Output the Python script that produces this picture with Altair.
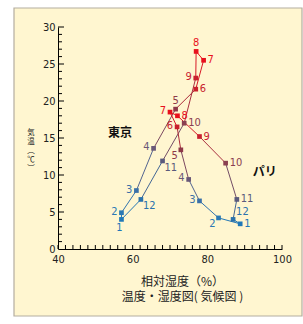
import altair as alt
import pandas as pd

# ---------------- data ----------------
months = [1, 2, 3, 4, 5, 6, 7, 8, 9, 10, 11, 12]
tokyo_humidity = [57.0, 57.0, 61.0, 65.6, 71.5, 76.9, 79.0, 77.0, 76.9, 73.8, 68.0, 62.2]
tokyo_temp = [4.0, 4.9, 7.9, 13.6, 18.9, 21.6, 25.5, 26.7, 23.1, 17.0, 11.9, 6.7]
paris_humidity = [88.8, 83.0, 77.9, 75.0, 72.9, 71.9, 70.0, 72.0, 77.9, 84.9, 87.9, 86.9]
paris_temp = [3.4, 4.2, 6.5, 9.4, 13.4, 16.5, 18.5, 18.0, 15.2, 11.6, 6.7, 4.0]

city_names = ["東京", "パリ"]
city_label_humidity = [56.6, 95.4]
city_label_temp = [15.7, 10.4]

x_title_lines = ["相対湿度（%）", "温度・湿度図( 気候図 )"]
y_title_chars = ["気", "温", "︵", "℃", "︶"]
x_tick_labels = [40, 60, 80, 100]
y_tick_labels = [0, 5, 10, 15, 20, 25, 30]
x_minor_ticks = list(range(40, 101, 2))
y_minor_ticks = [v for v in range(1, 31) if v % 5 != 0]
y_major_ticks = [5, 10, 15, 20, 25, 30]

# ---------------- styles ----------------
month_colors = ["#1f78b8", "#2a78b4", "#3a70a8", "#6a5878", "#8e3848", "#c8202c",
                "#e8101c", "#e8101c", "#c82030", "#8a4050", "#5a5a7c", "#2a72ac"]
tokyo_label_side = ["B", "L", "L", "L", "T", "R", "R", "T", "L", "R", "BR", "BR"]
paris_label_side = ["R", "BL", "L", "L", "BL", "L", "L", "R", "R", "R", "R", "TR"]
side_style = {
    "L": dict(align="right", dx=-4, dy=-1),
    "R": dict(align="left", dx=4, dy=0),
    "T": dict(align="center", dx=0, dy=-8),
    "B": dict(align="center", dx=-2, dy=9),
    "BL": dict(align="right", dx=-3, dy=6),
    "BR": dict(align="left", dx=2, dy=7),
    "TR": dict(align="left", dx=3, dy=-7),
}
NUM_FONT = "Liberation Sans Narrow, DejaVu Sans Condensed, Arial Narrow, sans-serif"
CJK_FONT = "Noto Sans CJK JP"
CREAM = "#FFF6D0"
BORDER = "#B4ADA0"


def mix(c1, c2):
    a = [int(c1[i:i + 2], 16) for i in (1, 3, 5)]
    b = [int(c2[i:i + 2], 16) for i in (1, 3, 5)]
    return "#" + "".join(f"{(p + q) // 2:02x}" for p, q in zip(a, b))


rows, segs = [], []
for city, hum, tmp, sides in [("東京", tokyo_humidity, tokyo_temp, tokyo_label_side),
                              ("パリ", paris_humidity, paris_temp, paris_label_side)]:
    n = len(months)
    for i in range(n):
        rows.append(dict(city=city, month=str(months[i]), x=hum[i], y=tmp[i],
                         col=month_colors[i], side=sides[i]))
        j = (i + 1) % n
        segs.append(dict(city=city, x=hum[i], y=tmp[i], x2=hum[j], y2=tmp[j],
                         col=mix(month_colors[i], month_colors[j])))
pts = pd.DataFrame(rows)
seg_df = pd.DataFrame(segs)
city_df = pd.DataFrame({"name": city_names, "x": city_label_humidity, "y": city_label_temp})

W, H = 224, 222
xs = alt.Scale(domain=[40, 100], nice=False, zero=False)
ys = alt.Scale(domain=[0, 30], nice=False, zero=False)

xaxis = alt.Axis(values=x_tick_labels, ticks=False, grid=False, domainColor="black",
                 domainWidth=1, labelFont=NUM_FONT, labelFontSize=11, labelColor="#222",
                 labelPadding=4, labelFlush=False, zindex=2,
                 title=x_title_lines, titleFont=CJK_FONT,
                 titleFontSize=12, titleFontWeight="normal", titleColor="#222",
                 titleX=124, titleY=27, titleBaseline="top", titleAlign="center",
                 titleLineHeight=15)
yaxis = alt.Axis(values=y_tick_labels, ticks=False, grid=False, domainColor="black",
                 domainWidth=1, labelFont=NUM_FONT, labelFontSize=11, labelColor="#222",
                 labelPadding=3, labelFlush=False, zindex=2, title=None)


def X(f):
    return alt.X(f, type="quantitative", scale=xs, axis=xaxis)


def Y(f):
    return alt.Y(f, type="quantitative", scale=ys, axis=yaxis)


bg = alt.Chart(pd.DataFrame({"a": [0]})).mark_rect(
    fill=CREAM, stroke=BORDER, strokeWidth=1.2
).encode(x=alt.value(-44), x2=alt.value(244), y=alt.value(-19), y2=alt.value(289))

ytitle = alt.Chart(pd.DataFrame({"t": ["\n".join(y_title_chars)]})).mark_text(
    font=CJK_FONT, fontSize=7.5, lineHeight=9, lineBreak="\n", color="#222",
    align="center", baseline="top"
).encode(x=alt.value(-27), y=alt.value(102), text="t:N")

xt = alt.Chart(pd.DataFrame({"v": x_minor_ticks})).mark_rule(color="black", strokeWidth=1).encode(
    x=X("v"), y=alt.value(H), y2=alt.value(H - 4))
ytm = alt.Chart(pd.DataFrame({"v": y_minor_ticks})).mark_rule(color="black", strokeWidth=1).encode(
    y=Y("v"), x=alt.value(0), x2=alt.value(4))
ytM = alt.Chart(pd.DataFrame({"v": y_major_ticks})).mark_rule(color="black", strokeWidth=1).encode(
    y=Y("v"), x=alt.value(0), x2=alt.value(6))

lines = alt.Chart(seg_df).mark_rule(strokeWidth=1).encode(
    x=X("x"), y=Y("y"), x2="x2", y2="y2", color=alt.Color("col:N", scale=None))

points = alt.Chart(pts).mark_point(shape="square", filled=True, size=22, opacity=1).encode(
    x=X("x"), y=Y("y"), color=alt.Color("col:N", scale=None))

label_layers = []
for side, st in side_style.items():
    label_layers.append(
        alt.Chart(pts).transform_filter(alt.datum.side == side).mark_text(
            font=NUM_FONT, fontSize=11, baseline="middle", **st
        ).encode(x=X("x"), y=Y("y"), text="month:N", color=alt.Color("col:N", scale=None))
    )

cities = alt.Chart(city_df).mark_text(
    font=CJK_FONT, fontSize=12, fontWeight="bold", color="#111", baseline="middle", align="center"
).encode(x=X("x"), y=Y("y"), text="name:N")

chart = alt.layer(bg, ytitle, xt, ytm, ytM, lines, points, *label_layers, cities).properties(
    width=W, height=H,
    autosize=alt.AutoSizeParams(type="none"),
    padding={"left": 58, "top": 27, "right": 21, "bottom": 75},
    background="white",
).configure_view(stroke=None)

chart.save("out.html", embed_options={"renderer": "svg", "actions": False})
